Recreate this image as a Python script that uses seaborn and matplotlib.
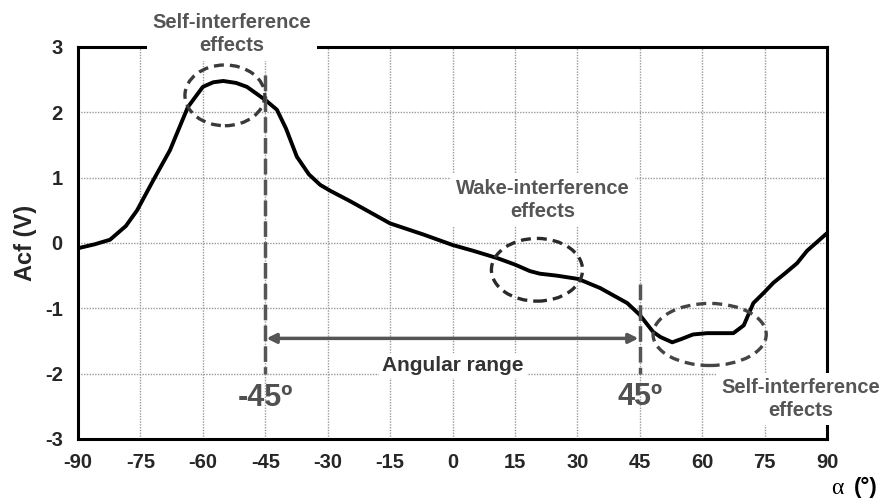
import matplotlib
matplotlib.use("Agg")
import matplotlib.pyplot as plt
from matplotlib.patches import Ellipse
import seaborn as sns
import pandas as pd

# ---- data ----
alpha = [-90, -86, -82.3, -78.5, -75.8, -72, -67.9, -63.6, -60, -57.5, -55.1, -52,
         -49.4, -45, -42.2, -40, -37.4, -34.5, -31.8, -29.4, -24.6, -15, -7, 0, 5,
         10.7, 15, 18.6, 21, 25.1, 30.2, 35.5, 42, 45, 48.2, 50, 52.8, 55, 57.8,
         61.2, 67.5, 70, 72.3, 75, 77.1, 80, 82.8, 85.2, 90]
acf = [-0.08, -0.02, 0.05, 0.26, 0.50, 0.95, 1.42, 2.08, 2.39, 2.46, 2.48, 2.45,
       2.39, 2.19, 2.04, 1.75, 1.32, 1.05, 0.89, 0.80, 0.64, 0.30, 0.13, -0.03, -0.12,
       -0.23, -0.33, -0.43, -0.47, -0.50, -0.55, -0.69, -0.92, -1.10, -1.36, -1.44,
       -1.52, -1.47, -1.40, -1.38, -1.38, -1.26, -0.92, -0.75, -0.61, -0.46, -0.31,
       -0.12, 0.15]
x_ticks = [-90, -75, -60, -45, -30, -15, 0, 15, 30, 45, 60, 75, 90]
y_ticks = [-3, -2, -1, 0, 1, 2, 3]
range_limits = [-45, 45]

df = pd.DataFrame({"alpha": alpha, "acf": acf})

sns.set_style("white")
plt.rcParams["font.family"] = ["Liberation Sans", "DejaVu Sans"]

fig = plt.figure(figsize=(8.84, 5.01), dpi=100)
ax = fig.add_axes([78 / 884, 1 - 439 / 501, (827 - 78) / 884, (439 - 47) / 501])

sns.lineplot(data=df, x="alpha", y="acf", color="black", lw=2.8, ax=ax, zorder=4)

ax.set_xlim(-90, 90)
ax.set_ylim(-3, 3)
ax.set_xticks(x_ticks)
ax.set_yticks(y_ticks)
ax.set_xticklabels([str(v) for v in x_ticks], fontsize=14.5, fontweight="bold")
ax.set_yticklabels([str(v) for v in y_ticks], fontsize=14.5, fontweight="bold")
ax.tick_params(axis="both", length=0)
ax.tick_params(axis="x", pad=10)
ax.tick_params(axis="y", pad=11)
ax.grid(True, color="#9a9a9a", linestyle=(0, (1, 1)), lw=1.0)
ax.set_axisbelow(True)
for s in ax.spines.values():
    s.set_color("black")
    s.set_linewidth(2.2)
ax.set_xlabel("")
ax.set_ylabel("Acf (V)", fontsize=17, fontweight="bold", labelpad=6)

# vertical dashed limits
ax.plot([range_limits[0]] * 2, [2.57, -2.0], color="#555555", lw=2.5,
        dashes=(4.5, 1.5), zorder=5)
ax.plot([range_limits[1]] * 2, [-0.62, -2.0], color="#555555", lw=2.5,
        dashes=(4.5, 1.5), zorder=5)

# angular range arrow
ax.annotate("", xy=(range_limits[0] + 0.3, -1.46), xytext=(range_limits[1] - 0.3, -1.46),
            arrowprops=dict(arrowstyle="<|-|>", color="#555555", lw=2.5,
                            mutation_scale=14, shrinkA=0, shrinkB=0), zorder=5)
ax.text(0.1, -1.87, "Angular range", ha="center", va="center", fontsize=15,
        fontweight="bold", color="#333333",
        bbox=dict(boxstyle="square,pad=0.15", fc="white", ec="none"), zorder=3)

ax.text(range_limits[0], -2.37, "-45º", ha="center", va="center", fontsize=22,
        fontweight="bold", color="#505050")
ax.text(range_limits[1], -2.35, "45º", ha="center", va="center", fontsize=22,
        fontweight="bold", color="#505050")

# ellipses
for (cx, cy, w, h, c) in [(-54.7, 2.26, 19.2, 0.93, "#3a3a3a"),
                          (20.3, -0.41, 21.9, 0.96, "#2a2a2a"),
                          (61.8, -1.40, 27.2, 0.95, "#444444")]:
    e = Ellipse((cx, cy), w, h, fill=False, ec=c, lw=2.4, linestyle=(0, (3, 1.8)),
                zorder=6)
    ax.add_patch(e)

# annotation labels
ann_kw = dict(ha="center", va="center", multialignment="center", fontsize=14.5,
              fontweight="bold", color="#555555", linespacing=1.25)
ax.text(-53, 3.2, "Self-interference\neffects",
        bbox=dict(boxstyle="square,pad=0.3", fc="white", ec="none"), clip_on=False,
        zorder=7, **ann_kw)
ax.text(21.8, 0.66, "Wake-interference\neffects",
        bbox=dict(boxstyle="square,pad=0.25", fc="white", ec="none"), zorder=3,
        **ann_kw)
ax.text(83.6, -2.39, "Self-interference\neffects",
        bbox=dict(boxstyle="square,pad=0.25", fc="white", ec="none"), clip_on=False,
        zorder=7, **ann_kw)

# x label
fig.text(837 / 884, 1 - 489 / 501, "α", ha="center", va="center", fontsize=17,
         family=["Liberation Serif", "DejaVu Serif"], color="black")
fig.text(866 / 884, 1 - 487 / 501, "(°)", ha="center", va="center", fontsize=16,
         fontweight="bold", color="black")

fig.savefig("out.png", dpi=100)
